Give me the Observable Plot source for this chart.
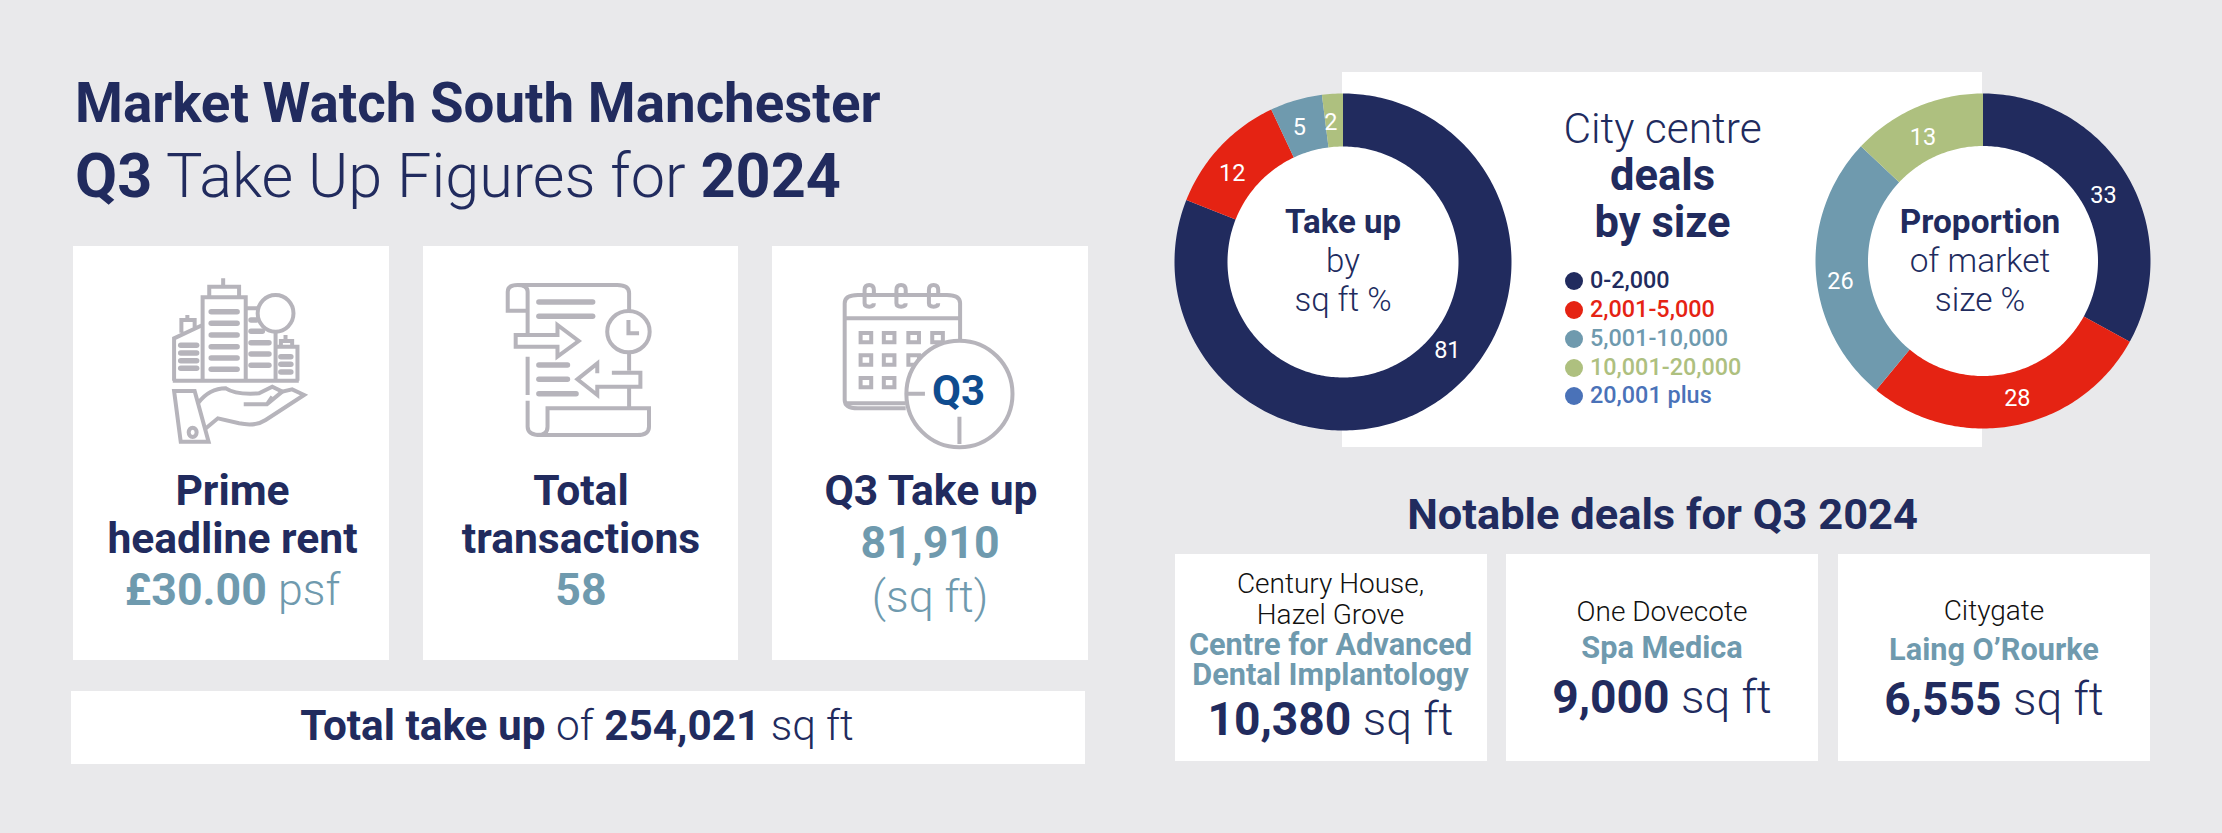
<!DOCTYPE html>
<html><head><meta charset="utf-8">
<script src="https://cdn.jsdelivr.net/npm/d3@7"></script>
<script src="https://cdn.jsdelivr.net/npm/@observablehq/plot@0.6"></script>
<style>
html,body{margin:0;padding:0;background:#e9e9eb;}
#page{position:relative;width:2222px;height:833px;overflow:hidden;background:#e9e9eb;font-family:Roboto,sans-serif;}
.box{position:absolute;background:#fff;}
.t{position:absolute;white-space:nowrap;font-family:Roboto,sans-serif;}
.t b{font-weight:700}
#page svg.ov{position:absolute;left:0;top:0;}
</style></head><body><div id="page"></div>
<script>
// ---- data ----
const bands = ["0-2,000","2,001-5,000","5,001-10,000","10,001-20,000","20,001 plus"];
const takeUpShare = [81,12,5,2,0];
const marketShare = [33,28,26,13,0];
const headline = "Market Watch South Manchester";
const rent = "£30.00", transactions = "58", q3TakeUp = "81,910", totalTakeUp = "254,021";
const dealPlaces = [["Century House,","Hazel Grove"],["One Dovecote"],["Citygate"]];
const dealTenants = [["Centre for Advanced","Dental Implantology"],["Spa Medica"],["Laing O’Rourke"]];
const dealSizes = ["10,380","9,000","6,555"];

// ---- style ----
const NAVY="#212b5e", TEAL="#6f9aae", INK="#111", THIN=300;
const bandColors=["#212b5e","#e52313","#6f9aae","#aec07f","#4a72b8"];
const page=document.getElementById("page");

function box(x0,y0,x1,y1){const d=document.createElement("div");d.className="box";
 d.style.cssText=`left:${x0}px;top:${y0}px;width:${x1-x0}px;height:${y1-y0}px`;page.appendChild(d);}
// place a line of text by its baseline
function txt(x,base,html,size,color,weight=700,anchor="middle",ls=0){
 const d=document.createElement("div");d.className="t";d.innerHTML=html;
 const tr=anchor==="middle"?"translateX(-50%)":"none";
 d.style.cssText=`left:${x}px;top:${base-0.8415*size}px;font-size:${size}px;line-height:${size}px;color:${color};font-weight:${weight};transform:${tr};letter-spacing:${ls}px`;
 page.appendChild(d);}
const L=s=>`<span style="font-weight:${THIN}">${s}</span>`;

// ---- panels ----
[[73,246,389,660],[423,246,738,660],[772,246,1088,660],[71,691,1085,764],
 [1342,72,1982,447],[1175,554,1487,761],[1506,554,1818,761],[1838,554,2150,761]].forEach(b=>box(...b));

// ---- donuts, through Plot's geo mark and projection ----
const KM=200; // projection scale, px per radian
function colat(r){return r/KM*180/Math.PI;}
function sector(a0,a1,r0,r1,band){
 const lon=a=>180-a, out=[],inn=[];
 const n=Math.max(2,Math.ceil((a1-a0)));
 for(let i=0;i<=n;i++){const a=a0+(a1-a0)*i/n;
  out.push([lon(a),90-colat(r1)]);inn.push([lon(a),90-colat(r0)]);}
 return {type:"Feature",properties:{band},geometry:{type:"Polygon",coordinates:[[...out,...inn.reverse(),out[0]]]}};
}
function donut(values,cx,cy,R,r,labelAngles,labelR){
 const size=2*R+8, total=d3.sum(values);
 const feats=[],labels=[];let c=0,li=0;
 values.forEach((v,i)=>{ if(!v) return;
  const a0=c/total*360,a1=(c+v)/total*360;c+=v;
  feats.push(sector(a0,a1,r,R,bands[i]));
  labels.push({lon:180-labelAngles[li],lat:90-colat(labelR[li]),v});li++;
 });
 const hole=d3.geoCircle().center([0,90]).radius(colat(r+1)).precision(1)();
 const el=Plot.plot({
  width:size,height:size,margin:0,
  projection:d3.geoAzimuthalEquidistant().rotate([0,-90]).scale(KM).translate([size/2,size/2]).precision(0.1),
  color:{type:"ordinal",domain:bands,range:bandColors},
  style:{background:"transparent"},
  marks:[
   Plot.geo([hole],{fill:"#fff"}),
   Plot.geo(feats,{fill:d=>d.properties.band}),
   Plot.text(labels,{x:"lon",y:"lat",text:d=>String(d.v),fill:"#fff",fontSize:23.5,fontFamily:"Roboto, sans-serif",fontWeight:400})
  ]
 });
 el.style.cssText+=`;position:absolute;left:${cx-size/2}px;top:${cy-size/2}px;background:transparent;overflow:visible`;
 page.appendChild(el);
}
donut(takeUpShare,1342.5,261,168.5,115.5,[130.4,308.7,342,355],[137,142,141,140.5]);
donut(marketShare,1982.5,260.5,167.5,115,[61.5,166,261.8,334],[137,142,144,137]);

// ---- header ----
txt(75,122,`<b>${headline}</b>`,54.7,NAVY,700,"start");
txt(75,197,`<b>Q3</b>${L(" Take Up Figures for ")}<b>2024</b>`,61.2,NAVY,400,"start");

// ---- cards ----
const cs=42.6, vs=44.7;
txt(232.5,505,"Prime",cs,NAVY); txt(232.5,553,"headline rent",cs,NAVY);
txt(232.5,606,`<b>${rent}</b> ${L("psf")}`,vs,TEAL);
txt(581,505,"Total",cs,NAVY); txt(581,553,"transactions",cs,NAVY);
txt(581,606,transactions,vs,TEAL);
txt(931,505,"Q3 Take up",cs,NAVY);
txt(930,559,q3TakeUp,vs,TEAL);
txt(930,612.5,"(sq ft)",vs,TEAL,THIN);
txt(577,741,`<b>Total take up</b> ${L("of")} <b>${totalTakeUp}</b> ${L("sq ft")}`,42.3,NAVY);

// ---- middle panel ----
txt(1662.5,143.5,"City centre",42.5,NAVY,THIN);
txt(1662.5,190.5,"deals",43.5,NAVY);
txt(1662.5,237.5,"by size",43.5,NAVY);
const lgY=[281,310,338.5,367.5,396];
bands.forEach((b,i)=>{
 const d=document.createElement("div");
 d.style.cssText=`position:absolute;left:${1565}px;top:${lgY[i]-9}px;width:18px;height:18px;border-radius:50%;background:${bandColors[i]}`;
 page.appendChild(d);
 txt(1590,lgY[i]+8,b,23.4,bandColors[i],500,"start");
});
txt(1343,232.7,"Take up",33,NAVY);txt(1343,272,"by",33,NAVY,THIN);txt(1343,311,"sq ft %",33,NAVY,THIN);
txt(1980,232.7,"Proportion",33.4,NAVY);txt(1980,272,"of market",33.4,NAVY,THIN);txt(1980,311,"size %",33.4,NAVY,THIN);

// ---- notable deals ----
txt(1662.5,529.5,"Notable deals for Q3 2024",43.4,NAVY);
const dc=[1330.5,1662,1994];
const placeY=[[594,625],[622],[620.5]], tenantY=[[656,685.5],[658.5],[661]], sizeY=[734.5,713,715];
dealPlaces.forEach((p,i)=>{
 p.forEach((s,j)=>txt(dc[i],placeY[i][j],s,28,INK,THIN));
 dealTenants[i].forEach((s,j)=>txt(dc[i],tenantY[i][j],s,30.7,TEAL,700));
 txt(dc[i],sizeY[i],`<b>${dealSizes[i]}</b> ${L("sq ft")}`,46.2,NAVY);
});

// ---- pictograms (decoration) ----
const ns="http://www.w3.org/2000/svg";
const ov=document.createElementNS(ns,"svg");
ov.setAttribute("class","ov");ov.setAttribute("width",2222);ov.setAttribute("height",833);
const bar=(x0,x1,y)=>`<path class="thick" d="M${x0},${y}H${x1}"/>`;
let g=`<g transform="translate(60,240) scale(0.6633,0.3333)" fill="none" stroke="#b6b4bb">`;
// icon 1: buildings on a hand
g+=`<path d="M246,115V140M225,172V140H270V172M215,422V172H280V422"/>
<path d="M172,422V295L215,255M183,278V240H203V262M192,225V240"/>
<path d="M280,205H300M325,275V422M325,320H358V422M333,320V303H350V320M340,285V303M170,422H360"/>
<ellipse cx="325" cy="220" rx="27" ry="55"/>
<path d="M172,453H203L224,605H182Z"/><ellipse cx="200" cy="577" rx="6" ry="14"/>
<path d="M208,490Q225,445 250,445Q265,465 300,460L320,440L335,455L350,448L368,465L310,540Q295,560 270,550L238,535L220,565"/>
<path d="M277,493H312L335,455M312,493L320,470"/>`;
[215,250,285,320,354,388].forEach(y=>g+=bar(228,267,y));
[316,339,362,385].forEach(y=>g+=bar(182,206,y));
[308,342,376].forEach(y=>g+=bar(288,315,y));
g+=bar(288,305,274)+bar(288,296,240);
[350,373,396].forEach(y=>g+=bar(333,348,y));
// icon 2: scroll with arrows and clock
g+=`<path d="M690,135H840Q858,135 858,160V212"/>
<path d="M705,212H675V155Q675,135 690,135Q705,135 705,155V285M705,350V465M705,482V560Q705,585 725,585H870Q888,585 888,560V505H735V560Q735,585 720,585"/>
<path d="M858,338V392M858,442V505"/>
<ellipse cx="857" cy="275" rx="32" ry="62"/><path d="M857,240V280H873"/>
<path d="M687,285H750V255L782,303L750,350V320H687Z"/>
<path d="M832,398H875V440H810V465L780,418L810,370V400"/>`;
g+=bar(722,803,186)+bar(722,803,229)+bar(722,765,375)+bar(722,765,418)+bar(722,778,461);
// icon 3: calendar with Q3 dial
g+=`<path d="M1275,505H1203Q1183,505 1183,480V190Q1183,165 1203,165H1337Q1357,165 1357,190V305"/>
<path d="M1183,235H1357M1183,490H1275"/>`;
[1220,1268,1317].forEach(x=>g+=`<path d="M${x-7},150Q${x-7},135 ${x},135Q${x+7},135 ${x+7},150V165M${x-7},150V190Q${x-7},200 ${x},200Q${x+7},200 ${x+7},190"/>`);
[[1215,293],[1250,293],[1287,293],[1323,293],[1215,360],[1250,360],[1287,360],[1215,428],[1250,428]]
 .forEach(([x,y])=>g+=`<rect x="${x-8}" y="${y-14}" width="16" height="28"/>`);
g+=`<ellipse cx="1356" cy="462" rx="80" ry="160" fill="#fff"/><path d="M1278,461H1304M1356,530V612"/>`;
g+=`</g>`;
ov.innerHTML=g+`<text x="958.5" y="405" text-anchor="middle" font-family="Roboto, sans-serif" font-weight="700" font-size="42" fill="#0f4c8f">Q3</text>`;
ov.querySelectorAll("g *").forEach(e=>{e.setAttribute("vector-effect","non-scaling-stroke");
 e.setAttribute("stroke-width",e.classList.contains("thick")?5.5:4);
 e.setAttribute("stroke-linecap",e.classList.contains("thick")?"round":"butt");});
page.appendChild(ov);
</script></body></html>
